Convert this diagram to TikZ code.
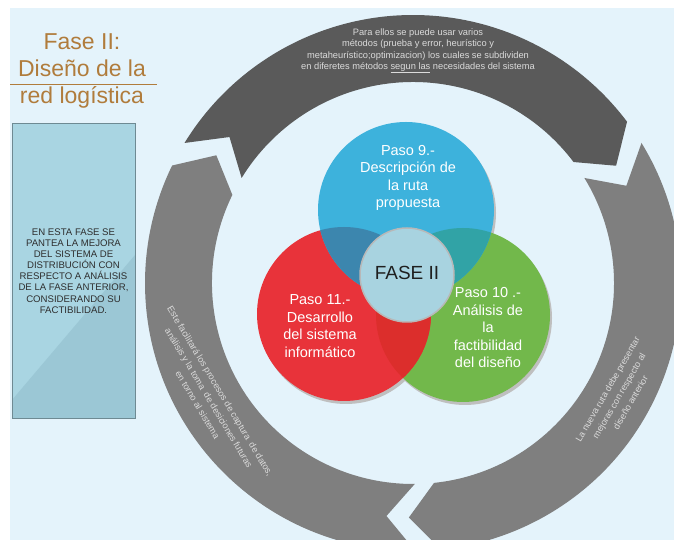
\documentclass[tikz,border=0pt]{standalone}
\usepackage{fontspec}
\setmainfont{Liberation Sans}

\definecolor{fondo}{HTML}{E4F3FB}
\definecolor{titulo}{HTML}{B07C3C}
\definecolor{caja}{HTML}{A9D5E2}
\definecolor{cajaosc}{HTML}{9BC7D5}
\definecolor{bandaosc}{HTML}{5A5A5A}
\definecolor{banda}{HTML}{7F7F7F}
\definecolor{azul}{HTML}{3DB2DC}
\definecolor{rojo}{HTML}{E8333A}
\definecolor{verde}{HTML}{72B84B}
\definecolor{azulrojo}{HTML}{3C86AE}
\definecolor{azulverde}{HTML}{31A3A6}
\definecolor{rojoverde}{HTML}{DC2E2C}
\definecolor{centro}{HTML}{A8D3E0}

% one arrow piece of the ring: colour, tail, notch, head, tip (angles)
\newcommand{\flecha}[5]{%
  \fill[#1] (#2:268) arc[start angle=#2, end angle=#4, radius=268]
    -- (#5:234.5) -- (#4:201) arc[start angle=#4, end angle=#2, radius=201]
    -- (#3:234.5) -- cycle;}

\tikzset{
  textobanda/.style={text=white!86!black, font=\fontsize{9.3}{11.3}\selectfont, align=center, inner sep=0pt},
  textogiro/.style={textobanda, font=\fontsize{9.1}{13.2}\selectfont},
  textopaso/.style={text=white, font=\fontsize{14.5}{17.5}\selectfont, align=center, inner sep=0pt},
  textotitulo/.style={text=titulo, font=\fontsize{23}{27}\selectfont, anchor=base, inner sep=0pt},
  sombra/.style={fill=black!25},
}

\begin{document}
\begin{tikzpicture}[x=1pt,y=1pt]
\useasboundingbox (0,0) rectangle (674,540);
\fill[white] (0,0) rectangle (674,540);
\fill[fondo] (10,0) rectangle (674,532);

% title
\node[textotitulo] (titulo1) at (82,490) {Fase II:};
\node[textotitulo] (titulo2) at (82,463) {Diseño de la};
\node[textotitulo] (titulo3) at (82,436) {red logística};
\draw[titulo, line width=0.8] (10,456) -- (157,456);

% box on the left
\fill[caja] (12,122) rectangle (135,417);
\fill[cajaosc] (12,140) -- (135,285) -- (135,122) -- (12,122) -- cycle;
\draw[black!35!caja, line width=0.6] (12,122) rectangle (135,417);
\node[text=black!82, font=\fontsize{9.6}{11.1}\selectfont, align=center, inner sep=0pt] (nota) at (73.5,269)
  {EN ESTA FASE SE\\PANTEA LA MEJORA\\DEL SISTEMA DE\\DISTRIBUCIÓN CON\\RESPECTO A ANÁLISIS\\DE LA FASE ANTERIOR,\\CONSIDERANDO SU\\FACTIBILIDAD.};

% ring of three arrows
\begin{scope}
\clip (10,0) rectangle (674,532);
\begin{scope}[shift={(413,257)}]
\flecha{bandaosc}{148.5}{141.5}{37}{30}
\flecha{banda}{31.5}{24.5}{-84}{-91}
\flecha{banda}{270.5}{263.5}{154}{147}
\end{scope}
\end{scope}

\node[textobanda] (textoarriba) at (418,489)
  {Para ellos se puede usar varios\\métodos (prueba y error, heurístico y\\metaheurístico;optimizacion) los cuales se subdividen\\en diferetes métodos \underline{segun las} necesidades del sistema};
\node[textogiro, rotate=-59] (textoizq) at (209,142)
  {Este facilitará los procesos de captura\ \ de datos,\\análisis y la toma\ \ de desiciones futuras\\en torno al sistema};
\node[textogiro, rotate=60] (textoder) at (619,144)
  {La nueva ruta debe presentar\\mejoras con respecto al\\diseño anterior};

% the three steps
\fill[sombra] (465,222) circle[radius=87];
\fill[sombra] (346,223) circle[radius=87];
\fill[sombra] (408,327) circle[radius=88];
\fill[verde] (463,225) circle[radius=87];
\fill[rojo] (344,226) circle[radius=87];
\begin{scope}
\clip (344,226) circle[radius=87];
\fill[rojoverde] (463,225) circle[radius=87];
\end{scope}
\fill[azul] (406,330) circle[radius=88];
\begin{scope}
\clip (406,330) circle[radius=88];
\fill[azulrojo] (344,226) circle[radius=87];
\fill[azulverde] (463,225) circle[radius=87];
\end{scope}
\filldraw[fill=centro, draw=black!28, line width=1.5] (407,265) circle[radius=47];

\node[textopaso] (paso9) at (408,362) {Paso 9.-\\Descripción de\\la ruta\\propuesta};
\node[textopaso] (paso11) at (320,214) {Paso 11.-\\Desarrollo\\del sistema\\informático};
\node[textopaso] (paso10) at (488,212) {Paso 10 .-\\Análisis de\\la\\factibilidad\\del diseño};
\node[text=black!88, font=\fontsize{19}{22}\selectfont, inner sep=0pt] (fase) at (407,267) {FASE II};
\end{tikzpicture}
\end{document}
